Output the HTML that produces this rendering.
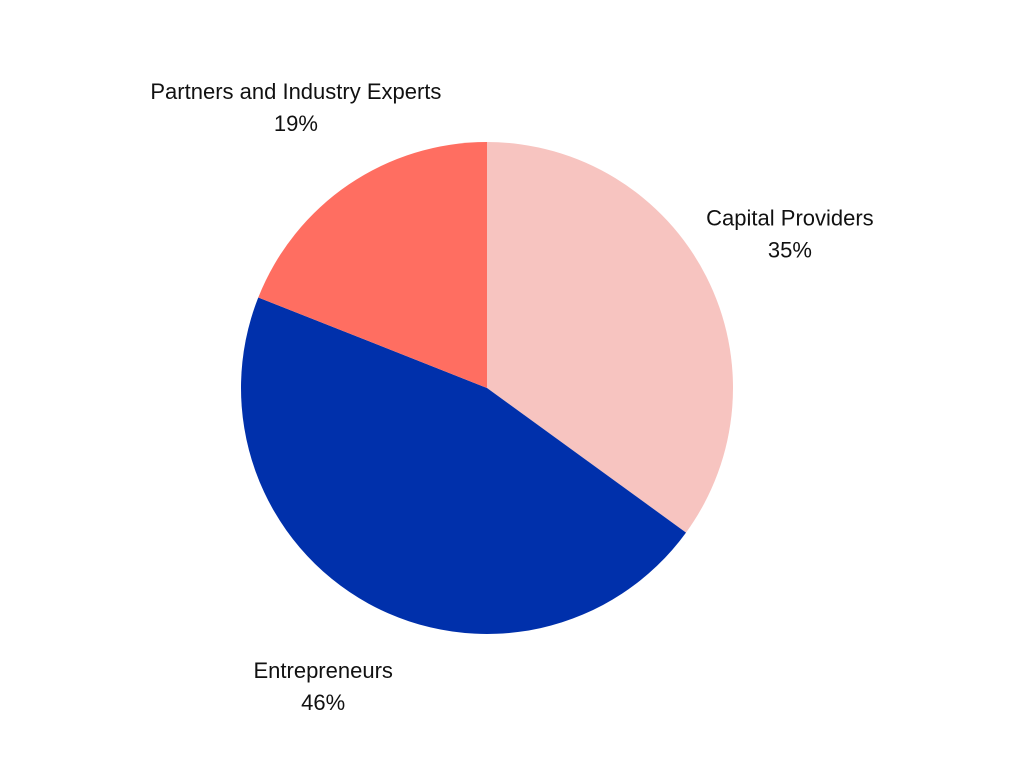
<!DOCTYPE html>
<html>
<head>
<meta charset="utf-8">
<style>
  html,body{margin:0;padding:0;background:#fff;}
  svg{display:block;}
  text{font-family:"Liberation Sans",sans-serif;font-size:22px;fill:#111;}
</style>
</head>
<body>
<svg id="chart" width="1024" height="768" viewBox="0 0 1024 768" xmlns="http://www.w3.org/2000/svg"></svg>
<script>
const categories = ["Capital Providers", "Entrepreneurs", "Partners and Industry Experts"];
const values = [35, 46, 19];
const colors = ["#f7c4c0", "#0030ab", "#ff6e61"];

const svg = document.getElementById('chart');
const NS = 'http://www.w3.org/2000/svg';
const cx = 487, cy = 388, r = 246, labelR = 340;
const total = values.reduce((a, b) => a + b, 0);
function pt(angle, rad) { return [cx + rad * Math.sin(angle), cy - rad * Math.cos(angle)]; }

let start = 0;
values.forEach((v, i) => {
  const sweep = v / total * Math.PI * 2;
  const end = start + sweep;
  const [x1, y1] = pt(start, r);
  const [x2, y2] = pt(end, r);
  const large = sweep > Math.PI ? 1 : 0;
  const path = document.createElementNS(NS, 'path');
  path.setAttribute('d', `M${cx},${cy} L${x1},${y1} A${r},${r} 0 ${large} 1 ${x2},${y2} Z`);
  path.setAttribute('fill', colors[i]);
  
  
  svg.appendChild(path);

  const mid = start + sweep / 2;
  const [lx, ly] = pt(mid, labelR);
  const t1 = document.createElementNS(NS, 'text');
  t1.setAttribute('x', lx);
  t1.setAttribute('y', ly - 8);
  t1.setAttribute('text-anchor', 'middle');
  t1.textContent = categories[i];
  
  
  svg.appendChild(t1);
  const t2 = document.createElementNS(NS, 'text');
  t2.setAttribute('x', lx);
  t2.setAttribute('y', ly + 24);
  t2.setAttribute('text-anchor', 'middle');
  t2.textContent = v + '%';
  
  
  svg.appendChild(t2);
  start = end;
});
</script>
</body>
</html>
